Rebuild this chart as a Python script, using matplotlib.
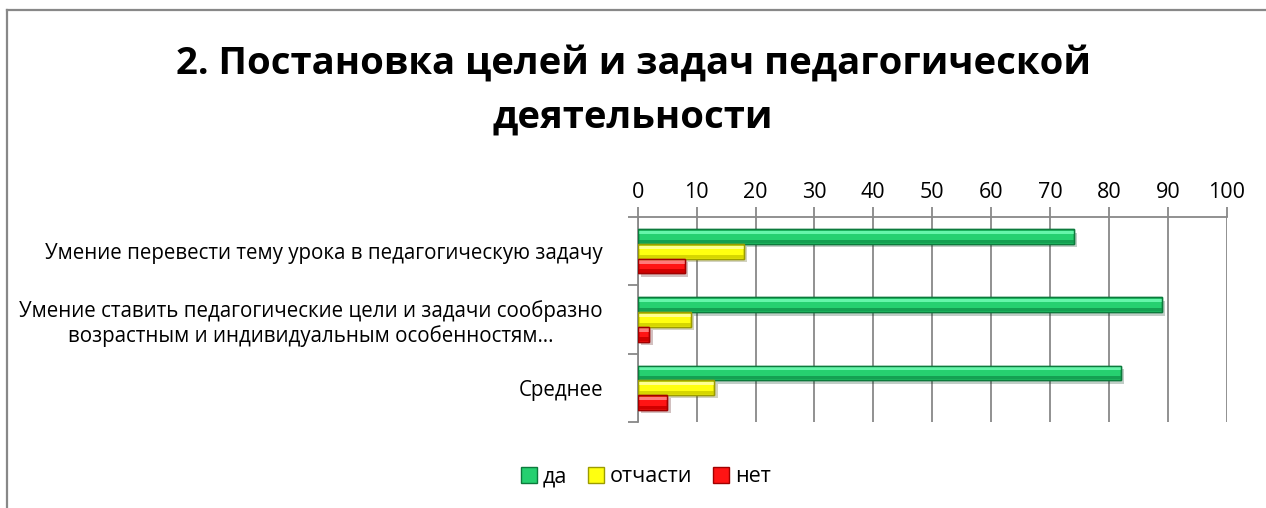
import matplotlib
matplotlib.use("Agg")
import matplotlib.pyplot as plt
import matplotlib.patheffects as pe
from matplotlib.lines import Line2D
from matplotlib.patches import Patch
import numpy as np

categories = [
    "Умение перевести тему урока в педагогическую задачу",
    "Умение ставить педагогические цели и задачи сообразно\nвозрастным и индивидуальным особенностям…",
    "Среднее",
]
series_names = ["да", "отчасти", "нет"]
da = [74, 89, 82]
otchasti = [18, 9, 13]
net = [8, 2, 5]
ticks = [0, 10, 20, 30, 40, 50, 60, 70, 80, 90, 100]

face = ["#26D070", "#FFFF10", "#FF1414"]
edge = ["#0C7A3C", "#9C9C00", "#A00000"]
hl = ["#66F5AA", "#FFFF90", "#FF7A7A"]
dk = ["#14A052", "#D6D600", "#D00000"]

plt.rcParams['font.family'] = ['Open Sans', 'DejaVu Sans']
fig = plt.figure(figsize=(12.66, 5.08), dpi=100)
W, H = 1266.0, 508.0
# chart frame (left and top edges visible)
fig.add_artist(Line2D([7 / W, 7 / W], [0, 1 - 10 / H], transform=fig.transFigure,
                      color="#888888", linewidth=1.6))
fig.add_artist(Line2D([7 / W, 1], [1 - 10 / H, 1 - 10 / H], transform=fig.transFigure,
                      color="#888888", linewidth=1.6))

ax = fig.add_axes([637.7 / W, 1 - 421.7 / H, (1226.7 - 637.7) / W, (421.7 - 217.3) / H])
n = len(categories)
bh = 0.216
y = np.arange(n)
data = [da, otchasti, net]
for i, vals in enumerate(data):
    yy = y - 1.5 * bh + bh * i + bh / 2
    ax.barh(yy, vals, height=bh, color=face[i], edgecolor=edge[i], linewidth=1.0, zorder=3,
            path_effects=[pe.SimplePatchShadow(offset=(2.5, -2.5), alpha=0.25), pe.Normal()])
    ax.barh(yy - bh * 0.28, vals, height=bh * 0.22, color=hl[i], linewidth=0, zorder=4)
    ax.barh(yy + bh * 0.33, vals, height=bh * 0.22, color=dk[i], linewidth=0, zorder=4)
    ax.barh(yy, vals, height=bh, fill=False, edgecolor=edge[i], linewidth=1.0, zorder=5)

ax.set_xlim(0, 100)
ax.set_ylim(n - 0.5, -0.5)
ax.set_xticks(ticks)
ax.xaxis.tick_top()
ax.tick_params(axis='x', length=7, width=1.3, color="#888888", labelsize=15.5, pad=3)
ax.grid(axis='x', color="#888888", linewidth=1.3, zorder=0)
ax.set_yticks(np.arange(-0.5, n, 1), minor=False)
ax.set_yticklabels([])
ax.set_yticks(y, minor=True)
ax.set_yticklabels(categories, minor=True, fontsize=14.8, ha='right', multialignment='center')
ax.tick_params(axis='y', which='major', length=7, width=1.3, color="#888888")
ax.tick_params(axis='y', which='minor', length=0, pad=25)
for s in ["right", "bottom"]:
    ax.spines[s].set_visible(False)
for s in ["left", "top"]:
    ax.spines[s].set_color("#888888")
    ax.spines[s].set_linewidth(1.3)

fig.text(0.5, 1 - 45 / H, "2. Постановка целей и задач педагогической\nдеятельности",
         ha='center', va='top', fontsize=27.5, fontweight='bold', linespacing=1.55)

handles = [Patch(facecolor=face[i], edgecolor=edge[i], label=series_names[i]) for i in range(3)]
fig.legend(handles=handles, loc='center', bbox_to_anchor=(646 / W, 1 - 477 / H), ncol=3,
           frameon=False, fontsize=15.5, handlelength=0.75, handleheight=0.75,
           handletextpad=0.28, columnspacing=0.95)

fig.savefig("out.png", dpi=100)
